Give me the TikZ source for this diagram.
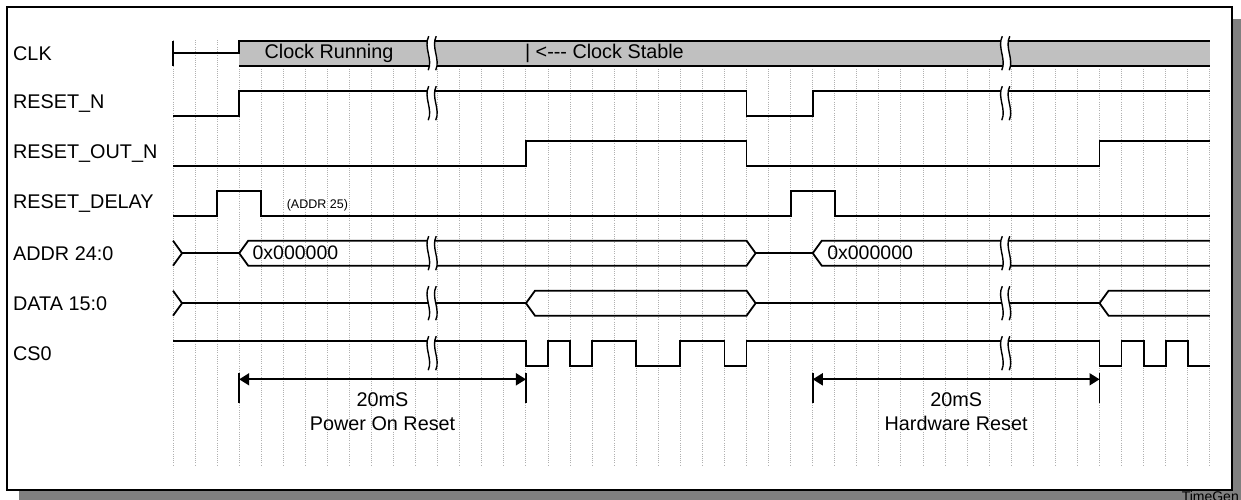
\documentclass[tikz,border=0pt]{standalone}
\usepackage{fontspec}
\setmainfont{Liberation Sans}
\usepackage{tikz}
\usetikzlibrary{arrows.meta, positioning, calc}
\definecolor{barfill}{HTML}{C0C0C0}
\definecolor{shadowgray}{HTML}{808080}
\definecolor{gridgray}{HTML}{B0B0B0}
\tikzstyle{wave} = [line width=1.8pt, black, line join=miter]
\tikzstyle{gridline} = [gridgray, line width=1pt, dash pattern=on 1pt off 1.2pt]
\tikzstyle{signame} = [anchor=west, inner sep=0pt, font=\fontsize{19.8}{22}\selectfont]
\tikzstyle{busval} = [anchor=west, inner sep=0pt, font=\fontsize{19.5}{22}\selectfont]
\tikzstyle{smallnote} = [anchor=west, inner sep=0pt, font=\fontsize{12.5}{14}\selectfont]
\tikzstyle{dimarrow} = [line width=1.8pt, {Triangle[length=10pt,width=12pt]}-{Triangle[length=10pt,width=12pt]}]
\tikzstyle{spantext} = [inner sep=0pt, align=center, font=\fontsize{19.8}{24}\selectfont]
\tikzset{wavebreak/.pic={
  \fill[white] (-3.5pt,17pt) .. controls (-9pt,6pt) and (1pt,-6pt) .. (-4pt,-17pt) -- (3.5pt,-17pt) .. controls (8.5pt,-6pt) and (-1.5pt,6pt) .. (4pt,17pt) -- cycle;
  \draw[line width=1.4pt] (-3.5pt,17pt) .. controls (-9pt,6pt) and (1pt,-6pt) .. (-4pt,-17pt);
  \draw[line width=1.4pt] (4pt,17pt) .. controls (-1.5pt,6pt) and (8.5pt,-6pt) .. (3.5pt,-17pt);
}}
\def\tw{0.41}

\begin{document}
\begin{tikzpicture}[x=1pt, y=-1pt]
\useasboundingbox (0,0) rectangle (1241,499);
\fill[white] (0,0) rectangle (1241,499);
\fill[shadowgray] (19,19) rectangle (1244,502);
\draw[line width=1.8pt, fill=white] (7,7) rectangle (1232,490);
\node[anchor=north east, inner sep=0pt, font=\fontsize{14}{16}\selectfont] (tg) at (1239,491) {TimeGen};

% signal names
\node[signame] (clk) at (13,53.2) {CLK};
\node[signame] (rstn) at (13,103.2) {RESET\_N};
\node[signame] (rstout) at (13,153.2) {RESET\_OUT\_N};
\node[signame] (rstdly) at (13,203.2) {RESET\_DELAY};
\node[signame] (addr) at (13,253.2) {ADDR 24:0};
\node[signame] (data) at (13,303.2) {DATA 15:0};
\node[signame] (cs) at (13,353.2) {CS0};

\begin{scope}[shift={(173,0)}, x=22.06pt]
\foreach \i in {0,...,47} \draw[gridline] (\i,40) -- (\i,465);

% CLK
\fill[barfill] (3,40.7) rectangle (47,65.7);
\draw[wave] (0,40.7) -- (0,65.7);
\draw[wave] (0,53.2) -- (3,53.2) -- (3,40.7) -- (47,40.7);
\draw[wave] (3,65.7) -- (47,65.7);
\node[signame, anchor=center] (run) at (7.07,53.2) {Clock Running};
\node[signame] (stable) at (15.95,53.2) {| <-\kern0pt-\kern0pt- Clock Stable};

% RESET_N, RESET_OUT_N, RESET_DELAY
\draw[wave] (0,115.7) -| (3,90.7) -| (26,115.7) -| (29,90.7) -- (47,90.7);
\draw[wave] (0,165.7) -| (16,140.7) -| (26,165.7) -| (42,140.7) -- (47,140.7);
\draw[wave] (0,215.7) -| (2,190.7) -| (4,215.7) -| (28,190.7) -| (30,215.7) -- (47,215.7);
\node[smallnote] (a25) at (5.15,205) {(ADDR 25)};

% ADDR 24:0
\draw[wave] (0,240.7) -- (\tw,253.2) -- (0,265.7);
\draw[wave] (\tw,253.2) -- (3,253.2);
\draw[wave] (3+\tw,240.7) -- (26,240.7) -- (26+\tw,253.2) -- (26,265.7) -- (3+\tw,265.7) -- (3,253.2) -- cycle;
\draw[wave] (26+\tw,253.2) -- (29,253.2);
\draw[wave] (47,240.7) -- (29+\tw,240.7) -- (29,253.2) -- (29+\tw,265.7) -- (47,265.7);
\node[busval] (v1) at (3.6,253.2) {0x000000};
\node[busval] (v2) at (29.65,253.2) {0x000000};

% DATA 15:0
\draw[wave] (0,290.7) -- (\tw,303.2) -- (0,315.7);
\draw[wave] (\tw,303.2) -- (16,303.2);
\draw[wave] (16+\tw,290.7) -- (26,290.7) -- (26+\tw,303.2) -- (26,315.7) -- (16+\tw,315.7) -- (16,303.2) -- cycle;
\draw[wave] (26+\tw,303.2) -- (42,303.2);
\draw[wave] (47,290.7) -- (42+\tw,290.7) -- (42,303.2) -- (42+\tw,315.7) -- (47,315.7);

% CS0
\draw[wave] (0,340.7) -| (16,365.7) -| (17,340.7) -| (18,365.7) -| (19,340.7) -| (21,365.7) -| (23,340.7) -| (25,365.7) -| (26,340.7) -| (42,365.7) -| (43,340.7) -| (44,365.7) -| (45,340.7) -| (46,365.7) -- (47,365.7);

% breaks
\foreach \y in {53.2,103.2,253.2,303.2,353.2} {
  \pic at (11.75,\y) {wavebreak};
  \pic at (37.75,\y) {wavebreak};
}

% reset spans
\coordinate (porL) at (3,379.3);
\coordinate (porR) at (16,379.3);
\coordinate (hwL) at (29,379.3);
\coordinate (hwR) at (42,379.3);
\draw[wave] (3,373) -- (3,402.7);
\draw[wave] (16,373) -- (16,402.7);
\draw[wave] (29,373) -- (29,402.7);
\draw[wave] (42,373) -- (42,402.7);
\draw[dimarrow] (porL) -- (porR);
\draw[dimarrow] (hwL) -- (hwR);
\node[spantext] (por) at (9.5,412) {20mS\\Power On Reset};
\node[spantext] (hw) at (35.5,412) {20mS\\Hardware Reset};
\end{scope}
\end{tikzpicture}
\end{document}
